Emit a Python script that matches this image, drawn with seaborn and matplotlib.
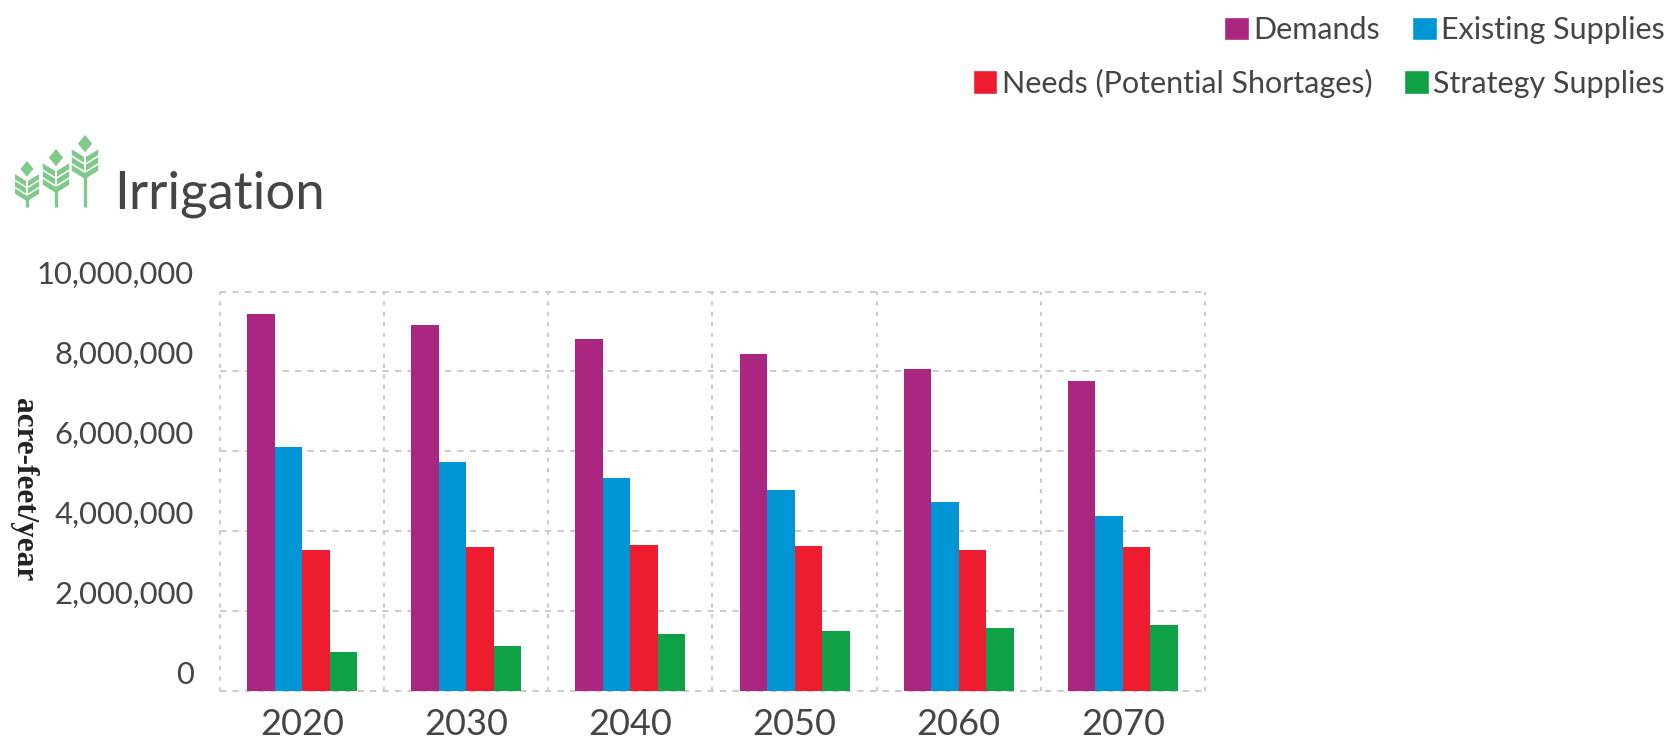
import pandas as pd
import matplotlib.pyplot as plt
from matplotlib.patches import Patch, Polygon
from matplotlib.ticker import FuncFormatter
from matplotlib.transforms import ScaledTranslation
import seaborn as sns

years = ['2020', '2030', '2040', '2050', '2060', '2070']
demands = [9440000, 9150000, 8800000, 8430000, 8060000, 7770000]
existing = [6110000, 5740000, 5320000, 5020000, 4740000, 4380000]
needs = [3530000, 3610000, 3660000, 3630000, 3530000, 3610000]
strategy = [970000, 1130000, 1420000, 1500000, 1580000, 1640000]

series_names = ['Demands', 'Existing Supplies', 'Needs (Potential Shortages)', 'Strategy Supplies']
colors = ['#AB2680', '#0096D6', '#ED1C2E', '#0FA146']
text_color = '#454545'

# long table for seaborn
df = pd.DataFrame({'year': years * 4,
                   'series': [s for s in series_names for _ in years],
                   'value': demands + existing + needs + strategy})

sns.set_style('white')
plt.rcParams['font.family'] = ['Lato', 'DejaVu Sans']

W, H = 1671, 741
fig = plt.figure(figsize=(W / 100, H / 100), dpi=100)
ax = fig.add_axes([220 / W, 1 - 691 / H, 985 / W, 399.5 / H])

sns.barplot(data=df, x='year', y='value', hue='series', hue_order=series_names,
            palette=colors, saturation=1, width=0.67, gap=0, legend=False,
            linewidth=0, ax=ax)

ax.set_xlim(-0.5, 5.5)
ax.set_ylim(0, 10000000)
ax.set_yticks([0, 2000000, 4000000, 6000000, 8000000, 10000000])
ax.yaxis.set_major_formatter(FuncFormatter(lambda v, p: f'{int(v):,}'))
ax.set_xlabel('')
ax.set_ylabel('')

# grid lines sit between the categories
ax.set_xticks([i - 0.5 for i in range(7)], minor=True)
ax.grid(True, axis='y', which='major', color='#cdcdcd', linestyle=(0, (3, 3)), linewidth=1.5, clip_on=False)
ax.grid(True, axis='x', which='minor', color='#cdcdcd', linestyle=(0, (2, 3)), linewidth=1.5, clip_on=False)
ax.grid(False, axis='x', which='major')
ax.set_axisbelow(True)
sns.despine(ax=ax, left=True, bottom=True, right=True, top=True)
ax.tick_params(axis='both', which='both', length=0)
ax.tick_params(axis='x', labelsize=26, labelcolor=text_color, pad=12)
ax.tick_params(axis='y', labelsize=22.3, labelcolor=text_color, pad=19)

# y labels float above their grid line
up = ScaledTranslation(0, 19 / 100, fig.dpi_scale_trans)
for lab in ax.get_yticklabels():
    lab.set_transform(lab.get_transform() + up)

fig.text(23 / W, 1 - 490 / H, 'acre-feet/year', rotation=270, ha='center', va='center',
         family=['Liberation Serif'], weight='bold', fontsize=22.5, color='#222222')
fig.text(114 / W, 1 - 208 / H, 'Irrigation', ha='left', va='baseline', fontsize=38, color=text_color)

# legend, two right aligned rows
handles = [Patch(facecolor=c, label=s) for c, s in zip(colors, series_names)]
leg_opts = dict(ncol=2, frameon=False, prop={'size': 22}, labelcolor=text_color,
                handlelength=0.8, handleheight=0.8, handletextpad=0.15,
                columnspacing=1.05, borderaxespad=0, borderpad=0)
leg1 = fig.legend(handles=handles[:2], loc='center right', bbox_to_anchor=(1665 / W, 1 - 30 / H), **leg_opts)
leg2 = fig.legend(handles=handles[2:], loc='center right', bbox_to_anchor=(1665 / W, 1 - 83 / H), **leg_opts)

# wheat icon, drawn on a pixel sized overlay
icon = fig.add_axes([0, 0, 1, 1], facecolor='none')
icon.set_xlim(0, W)
icon.set_ylim(H, 0)
icon.axis('off')
green = '#7FC98B'


def wheat(cx, top, bottom, size):
    icon.plot([cx, cx], [top + size * 3.2, bottom], color=green, lw=2.4, solid_capstyle='butt')
    d = size * 0.62
    icon.add_patch(Polygon([(cx, top), (cx + d, top + size * 0.75), (cx, top + size * 1.5), (cx - d, top + size * 0.75)],
                           color=green, lw=0))
    for k in range(3):
        y = top + size * (1.7 + k * 0.68)
        for sgn in (-1, 1):
            icon.add_patch(Polygon([(cx + sgn * 1.0, y + size * 0.2), (cx + sgn * size * 1.15, y - size * 0.45),
                                    (cx + sgn * size * 1.15, y + size * 0.05), (cx + sgn * 1.0, y + size * 0.72)],
                                   color=green, lw=0))


wheat(27, 161, 207, 10.5)
wheat(56, 149, 207, 11.5)
wheat(85, 135, 207, 11.5)

fig.savefig('out.png', dpi=100)
